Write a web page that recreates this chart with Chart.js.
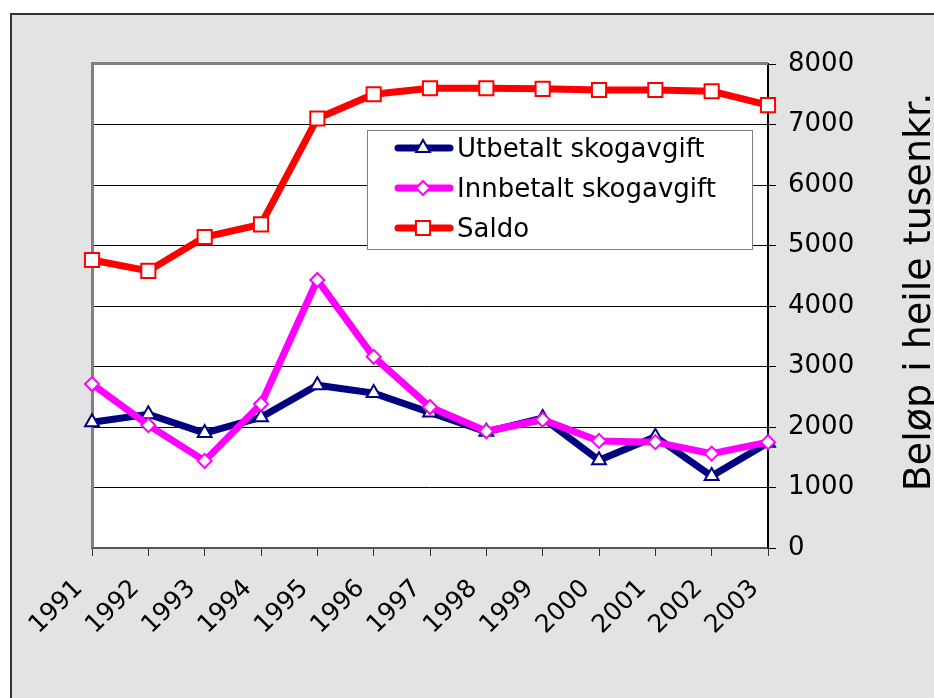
<!DOCTYPE html>
<html>
<head>
<meta charset="utf-8">
<script src="https://cdn.jsdelivr.net/npm/chart.js@4/dist/chart.umd.min.js"></script>
<style>
html,body{margin:0;padding:0;background:#fff;}
#wrap{width:934px;height:698px;position:relative;}
canvas{display:block;}
</style>
</head>
<body>
<div id="wrap"><canvas id="c" width="934" height="698"></canvas></div>
<script>
// ---- data ----
const years = ['1991','1992','1993','1994','1995','1996','1997','1998','1999','2000','2001','2002','2003'];
const utbetalt  = [2080, 2210, 1900, 2160, 2690, 2560, 2240, 1920, 2150, 1450, 1840, 1190, 1740];
const innbetalt = [2710, 2030, 1440, 2380, 4430, 3160, 2330, 1930, 2120, 1770, 1750, 1560, 1750];
const saldo     = [4760, 4580, 5140, 5350, 7100, 7500, 7600, 7600, 7590, 7570, 7570, 7550, 7320];
const seriesNames = ['Utbetalt skogavgift', 'Innbetalt skogavgift', 'Saldo'];
const yTitle = 'Beløp i heile tusenkr.';
const yMin = 0, yMax = 8000, yStep = 1000;

const FONT = 'DejaVu Sans';

const framePlugin = {
  id: 'frame',
  beforeDraw(chart) {
    const ctx = chart.ctx, a = chart.chartArea;
    ctx.save();
    ctx.fillStyle = '#ffffff';
    ctx.fillRect(0, 0, chart.width, chart.height);
    ctx.fillStyle = '#e3e3e3';
    ctx.fillRect(11, 14, chart.width, chart.height);
    ctx.strokeStyle = '#333333';
    ctx.lineWidth = 2;
    ctx.beginPath();
    ctx.moveTo(11, chart.height); ctx.lineTo(11, 14); ctx.lineTo(chart.width, 14);
    ctx.stroke();
    ctx.fillStyle = '#ffffff';
    ctx.fillRect(a.left, a.top, a.right - a.left, a.bottom - a.top);
    ctx.restore();
  },
  beforeDatasetsDraw(chart) {
    const ctx = chart.ctx, a = chart.chartArea;
    ctx.save();
    ctx.strokeStyle = '#808080';
    ctx.lineWidth = 3;
    ctx.beginPath();
    ctx.moveTo(a.left + 0.5, a.bottom);
    ctx.lineTo(a.left + 0.5, a.top - 0.5);
    ctx.lineTo(a.right, a.top - 0.5);
    ctx.stroke();
    ctx.restore();
  },
  afterDraw(chart) {
    const ctx = chart.ctx, a = chart.chartArea;
    ctx.save();
    // y axis title (reads bottom to top)
    ctx.fillStyle = '#000';
    ctx.font = '38px "' + FONT + '"';
    ctx.textAlign = 'center';
    ctx.textBaseline = 'alphabetic';
    ctx.translate(930, (a.top + a.bottom) / 2 - 14);
    ctx.rotate(-Math.PI / 2);
    ctx.fillText(yTitle, 0, 0);
    ctx.restore();

    // legend box
    ctx.save();
    const bx = 367, by = 130, bw = 385, bh = 119;
    ctx.fillStyle = '#ffffff';
    ctx.fillRect(bx, by, bw, bh);
    ctx.strokeStyle = '#808080';
    ctx.lineWidth = 1;
    ctx.strokeRect(bx + 0.5, by + 0.5, bw, bh);
    const rows = [0, 1, 2];
    rows.forEach((di, i) => {
      const ds = chart.data.datasets[di];
      const y = 148 + i * 40;
      ctx.strokeStyle = ds.borderColor;
      ctx.lineWidth = 7;
      ctx.lineCap = 'round';
      ctx.beginPath();
      ctx.moveTo(398, y); ctx.lineTo(450, y);
      ctx.stroke();
      ctx.lineCap = 'butt';
      ctx.fillStyle = '#ffffff';
      ctx.strokeStyle = ds.pointBorderColor;
      ctx.lineWidth = ds.pointBorderWidth;
      Chart.helpers.drawPoint(ctx, {pointStyle: ds.pointStyle, radius: ds.pointRadius, borderWidth: ds.pointBorderWidth, rotation: 0}, 423, y);
      ctx.fillStyle = '#000';
      ctx.font = '26px "' + FONT + '"';
      ctx.textAlign = 'left';
      ctx.textBaseline = 'middle';
      ctx.fillText(ds.label, 457, y + 2);
    });
    ctx.restore();
  }
};

const mk = (label, data, color, style, radius, order) => ({
  label, data, order,
  borderColor: color, backgroundColor: color,
  borderWidth: 7, tension: 0,
  pointStyle: style, pointRadius: radius, pointHoverRadius: radius,
  pointBackgroundColor: '#ffffff', pointBorderColor: color, pointBorderWidth: 2
});

new Chart(document.getElementById('c'), {
  type: 'line',
  data: {
    labels: years,
    datasets: [
      mk(seriesNames[0], utbetalt, '#000080', 'triangle', 8, 1),
      mk(seriesNames[1], innbetalt, '#ff00ff', 'rectRot', 7, 0),
      mk(seriesNames[2], saldo, '#ff0000', 'rect', 10, 2)
    ]
  },
  options: {
    responsive: false,
    animation: false,
    devicePixelRatio: 1,
    layout: { padding: { left: 92, top: 64, right: 0, bottom: 0 } },
    plugins: { legend: { display: false }, tooltip: { enabled: false }, title: { display: false } },
    scales: {
      x: {
        type: 'category',
        offset: false,
        grid: { drawOnChartArea: false, drawTicks: true, tickLength: 8, color: '#333', lineWidth: 1 },
        border: { display: true, color: '#555', width: 2 },
        ticks: {
          autoSkip: false, minRotation: 45, maxRotation: 45,
          font: { family: FONT, size: 25 }, color: '#000',
          padding: 18, labelOffset: -13
        },
        afterFit(scale) { scale.height = 150; }
      },
      y: {
        position: 'right',
        min: yMin, max: yMax,
        grid: { color: '#000', lineWidth: 1, drawTicks: true, tickLength: 8 },
        border: { display: true, color: '#000', width: 2 },
        ticks: {
          stepSize: yStep,
          font: { family: FONT, size: 26 }, color: '#000',
          padding: 12,
          callback: (v) => String(v)
        },
        afterFit(scale) { scale.width = 166; }
      }
    }
  },
  plugins: [framePlugin]
});
</script>
</body>
</html>
